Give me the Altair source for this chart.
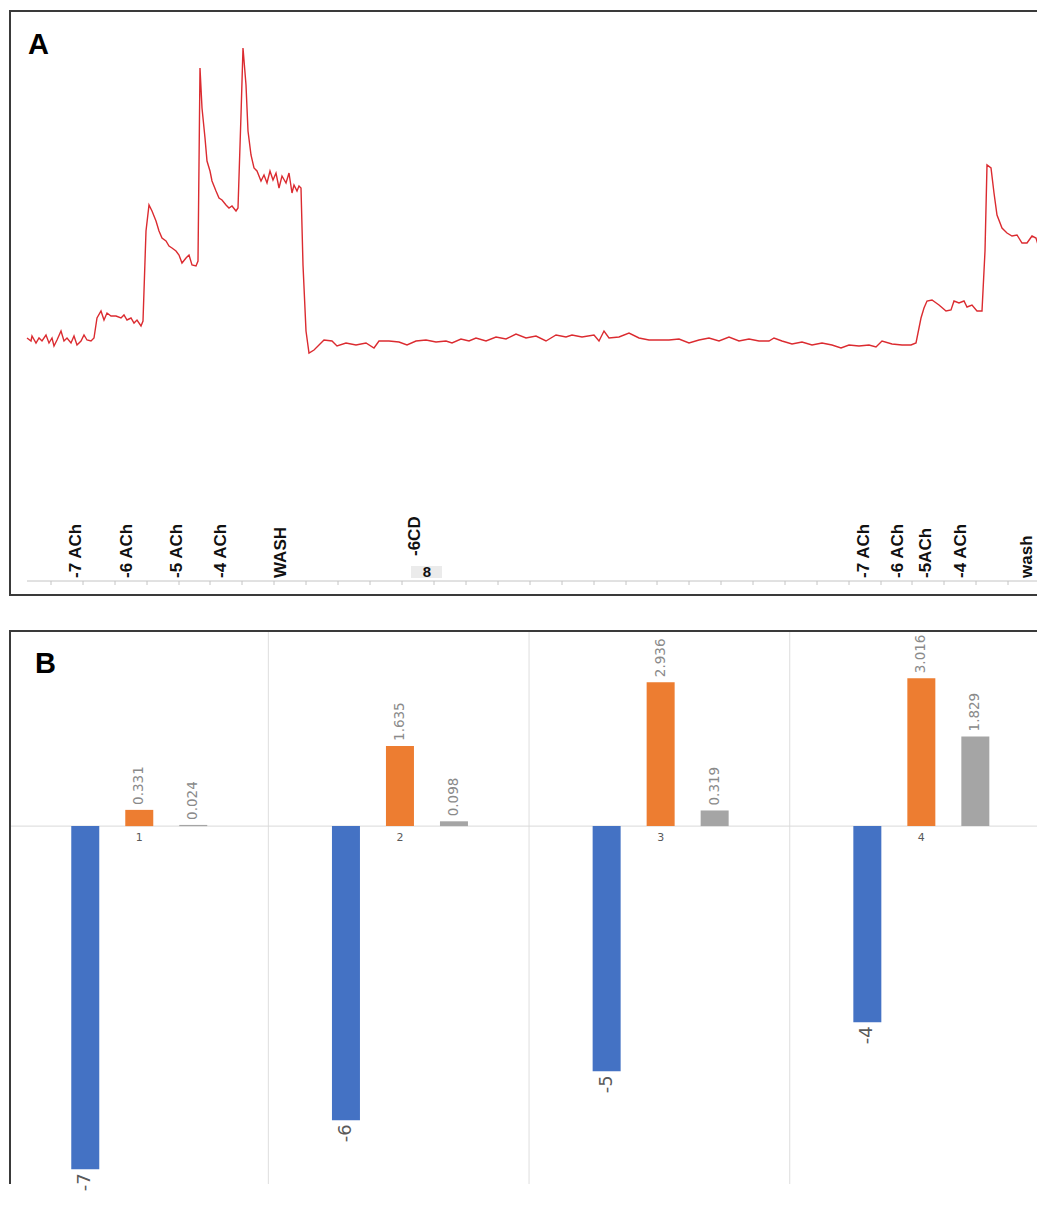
import altair as alt
import pandas as pd

# ---------------- Panel A: isometric tension trace ----------------
trace_t = [28, 32, 33, 37, 40, 43, 47, 50, 53, 55,
           58, 62, 65, 68, 72, 75, 78, 82, 85, 88,
           92, 95, 98, 102, 105, 108, 112, 117, 122, 125,
           128, 132, 135, 138, 142, 144, 147, 150, 153, 157,
           160, 163, 167, 170, 173, 177, 180, 183, 187, 190,
           193, 197, 199, 201, 203, 206, 208, 211, 213, 217,
           220, 223, 227, 230, 233, 237, 239, 242, 244, 247,
           249, 252, 255, 258, 262, 265, 268, 271, 274, 277,
           280, 283, 287, 290, 293, 295, 298, 300, 302, 304,
           307, 310, 315, 320, 325, 333, 338, 347, 357, 367,
           375, 380, 390, 400, 408, 417, 427, 437, 447, 453,
           462, 470, 477, 487, 497, 507, 517, 527, 537, 547,
           557, 567, 573, 583, 595, 600, 605, 610, 620, 630,
           640, 650, 660, 670, 680, 690, 700, 710, 720, 730,
           740, 750, 760, 770, 775, 783, 793, 803, 813, 823,
           833, 842, 850, 860, 870, 877, 883, 893, 903, 912,
           917, 922, 925, 928, 933, 940, 947, 952, 955, 960,
           965, 968, 973, 978, 983, 986, 988, 992, 995, 998,
           1003, 1008, 1013, 1018, 1023, 1028, 1033, 1037, 1040]
trace_v = [258, 255, 260, 253, 258, 255, 261, 253, 258, 250,
           256, 265, 255, 258, 253, 260, 251, 255, 261, 256,
           255, 258, 278, 285, 276, 283, 280, 280, 278, 281,
           276, 278, 273, 276, 270, 275, 365, 391, 385, 375,
           365, 358, 355, 350, 348, 345, 341, 333, 338, 341,
           331, 330, 335, 528, 488, 458, 435, 425, 415, 405,
           398, 396, 391, 388, 390, 385, 388, 481, 548, 511,
           465, 441, 428, 425, 415, 421, 413, 425, 416, 423,
           408, 420, 413, 423, 403, 411, 405, 410, 408, 331,
           265, 243, 246, 251, 256, 255, 250, 253, 251, 253,
           248, 255, 255, 254, 251, 255, 256, 254, 255, 253,
           257, 255, 258, 255, 259, 257, 262, 258, 260, 255,
           261, 259, 261, 259, 261, 255, 265, 258, 259, 263,
           258, 256, 256, 256, 257, 253, 256, 258, 255, 259,
           255, 257, 255, 255, 258, 255, 252, 254, 251, 253,
           251, 248, 251, 250, 251, 249, 255, 252, 251, 251,
           253, 278, 288, 295, 296, 291, 285, 286, 295, 293,
           295, 289, 291, 285, 285, 345, 431, 428, 403, 381,
           368, 363, 360, 361, 353, 353, 360, 358, 348]

event_labels = ["-7 ACh", "-6 ACh", "-5 ACh", "-4 ACh", "WASH",
                "-7 ACh", "-6 ACh", "-5ACh", "-4 ACh", "wash"]
event_t = [77, 128, 178, 222, 282, 865, 899, 927, 962, 1028]
cd_label = ["-6CD"]
cd_t = [416]
marker_label = ["8"]
marker_t = [428]

scale_ticks = [52, 84, 116, 148, 180, 211, 243, 275, 307, 339, 371,
               403, 435, 467, 499, 531, 563, 595, 627, 658, 690, 722,
               754, 786, 818, 850, 882, 913, 945, 977, 1009]

# ---------------- Panel B: grouped bars ----------------
dose_groups = ["1", "2", "3", "4"]
group_num = [1, 2, 3, 4]
log_ach = [-7, -6, -5, -4]
control_resp = [0.331, 1.635, 2.936, 3.016]
cd_resp = [0.024, 0.098, 0.319, 1.829]
series_names = ["log[ACh]", "Control", "CD"]
series_colors = ["#4472C4", "#ED7D31", "#A5A5A5"]
series_shift = [-54, 0, 54]

W = 1028
HA = 586
HB = 554
BORDER = "#3a3a3a"
one_row = pd.DataFrame({"k": [0]})

# ---------- build panel A ----------
trace_df = pd.DataFrame({"t": trace_t, "v": trace_v})
ev_df = pd.DataFrame({"t": event_t, "label": event_labels})
cd_df = pd.DataFrame({"t": cd_t, "label": cd_label})
mk_df = pd.DataFrame({"t": marker_t, "label": marker_label})
tick_df = pd.DataFrame({"t": scale_ticks})

xA_scale = alt.Scale(domain=[10, 1038], nice=False, zero=False)
yA_scale = alt.Scale(domain=[0, 586], nice=False)

xA_axis = alt.X("t:Q", scale=xA_scale,
                axis=alt.Axis(values=scale_ticks, grid=True, gridColor="#f0f2f4",
                              gridWidth=1, domain=False, ticks=False, labels=False,
                              title=None))
xA = alt.X("t:Q", scale=xA_scale, axis=None)
yA = alt.Y("v:Q", scale=yA_scale, axis=None)

trace = alt.Chart(trace_df).mark_line(color="#db2b30", strokeWidth=1.4, clip=True).encode(
    x=xA_axis, y=yA)

axis_line = alt.Chart(one_row).mark_rule(color="#c4c4c4", strokeWidth=1).encode(
    x=alt.value(18), x2=alt.value(W), y=alt.value(571))
axis_ticks = alt.Chart(tick_df).mark_rule(color="#c4c4c4", strokeWidth=1).encode(
    x=xA, y=alt.value(571), y2=alt.value(575))

label_font = "Liberation Sans Narrow, Liberation Sans, Arial"
ev_text = alt.Chart(ev_df).mark_text(
    angle=270, align="left", baseline="middle", font=label_font, fontWeight="bold",
    fontSize=17, color="#111111").encode(
    x=xA, y=alt.value(568), text="label:N")
cd_text = alt.Chart(cd_df).mark_text(
    angle=270, align="left", baseline="middle", font=label_font, fontWeight="bold",
    fontSize=17, color="#111111").encode(
    x=xA, y=alt.value(546), text="label:N")
mk_box = alt.Chart(one_row).mark_rect(color="#ebebeb").encode(
    x=alt.value(402), x2=alt.value(433), y=alt.value(556), y2=alt.value(568))
mk_text = alt.Chart(mk_df).mark_text(
    align="center", baseline="middle", font="Liberation Sans", fontWeight="bold",
    fontSize=15, color="#111111").encode(
    x=xA, y=alt.value(562), text="label:N")

title_a = alt.Chart(one_row).mark_text(
    text="A", align="left", baseline="alphabetic", font="Liberation Sans",
    fontWeight="bold", fontSize=29, color="#000000").encode(
    x=alt.value(19), y=alt.value(44))

a_top = alt.Chart(one_row).mark_rule(color=BORDER, strokeWidth=2).encode(
    x=alt.value(0), x2=alt.value(W), y=alt.value(1))
a_left = alt.Chart(one_row).mark_rule(color=BORDER, strokeWidth=2).encode(
    x=alt.value(1), y=alt.value(0), y2=alt.value(HA))
a_bottom = alt.Chart(one_row).mark_rule(color=BORDER, strokeWidth=2).encode(
    x=alt.value(0), x2=alt.value(W), y=alt.value(HA - 1))

chart_a = alt.layer(trace, axis_line, axis_ticks, ev_text, mk_box, cd_text, mk_text,
                    title_a, a_top, a_left, a_bottom).properties(width=W, height=HA)

# ---------- build panel B ----------
rows = []
for i, g in enumerate(group_num):
    for s, vals in zip(series_names, [log_ach, control_resp, cd_resp]):
        v = vals[i]
        lab = str(v) if isinstance(v, int) else f"{v:.3f}"
        rows.append({"g": g, "series": s, "value": v, "label": lab})
bars_df = pd.DataFrame(rows)

xB_scale = alt.Scale(domain=[0.51947, 4.4245], nice=False, zero=False)
xB = alt.X("g:Q", scale=xB_scale, axis=None)
yB_scale = alt.Scale(domain=[-7.3, 4], nice=False)
yB = alt.Y("value:Q", scale=yB_scale, axis=None, stack=None)

grid_b = alt.Chart(pd.DataFrame({"g": group_num[1:]})).mark_rule(
    color="#dedede", strokeWidth=1, xOffset=-131.6).encode(
    x=xB, y=alt.value(0), y2=alt.value(HB))
zero_b = alt.Chart(pd.DataFrame({"value": [0]})).mark_rule(
    color="#d9d9d9", strokeWidth=1).encode(
    y=yB, x=alt.value(0), x2=alt.value(W))

layers_b = [grid_b, zero_b]
for s, col, sh in zip(series_names, series_colors, series_shift):
    sub = alt.Chart(bars_df).transform_filter(alt.datum.series == s)
    layers_b.append(sub.mark_bar(width=28, color=col, xOffset=sh).encode(x=xB, y=yB))
for s, col, sh in zip(series_names, series_colors, series_shift):
    sub = alt.Chart(bars_df).transform_filter(alt.datum.series == s)
    if s == "log[ACh]":
        layers_b.append(sub.mark_text(
            angle=270, align="right", baseline="middle", dx=-4, xOffset=sh,
            font="DejaVu Sans", fontSize=18, color="#595959").encode(
            x=xB, y=yB, text="label:N"))
    else:
        layers_b.append(sub.mark_text(
            angle=270, align="left", baseline="middle", dx=5, xOffset=sh,
            font="DejaVu Sans", fontSize=13.5, color="#8a8a8a").encode(
            x=xB, y=yB, text="label:N"))

cat_labels = alt.Chart(pd.DataFrame({"g": group_num, "cat": dose_groups,
                                     "value": [0, 0, 0, 0]})).mark_text(
    baseline="middle", align="center", dy=12, font="DejaVu Sans", fontSize=11,
    color="#595959").encode(x=xB, y=yB, text="cat:N")

title_b = alt.Chart(one_row).mark_text(
    text="B", align="left", baseline="alphabetic", font="Liberation Sans",
    fontWeight="bold", fontSize=29, color="#000000").encode(
    x=alt.value(26), y=alt.value(43))

b_top = alt.Chart(one_row).mark_rule(color=BORDER, strokeWidth=2).encode(
    x=alt.value(0), x2=alt.value(W), y=alt.value(1))
b_left = alt.Chart(one_row).mark_rule(color=BORDER, strokeWidth=2).encode(
    x=alt.value(1), y=alt.value(0), y2=alt.value(HB))

chart_b = alt.layer(*layers_b, cat_labels, title_b, b_top, b_left).properties(
    width=W, height=HB)

chart = alt.vconcat(chart_a, chart_b, spacing=32).properties(
    padding={"left": 0, "top": 1, "right": 0, "bottom": 0},
    background="white",
).configure_view(stroke=None)

chart.save("out.html", embed_options={"renderer": "svg", "actions": False})
